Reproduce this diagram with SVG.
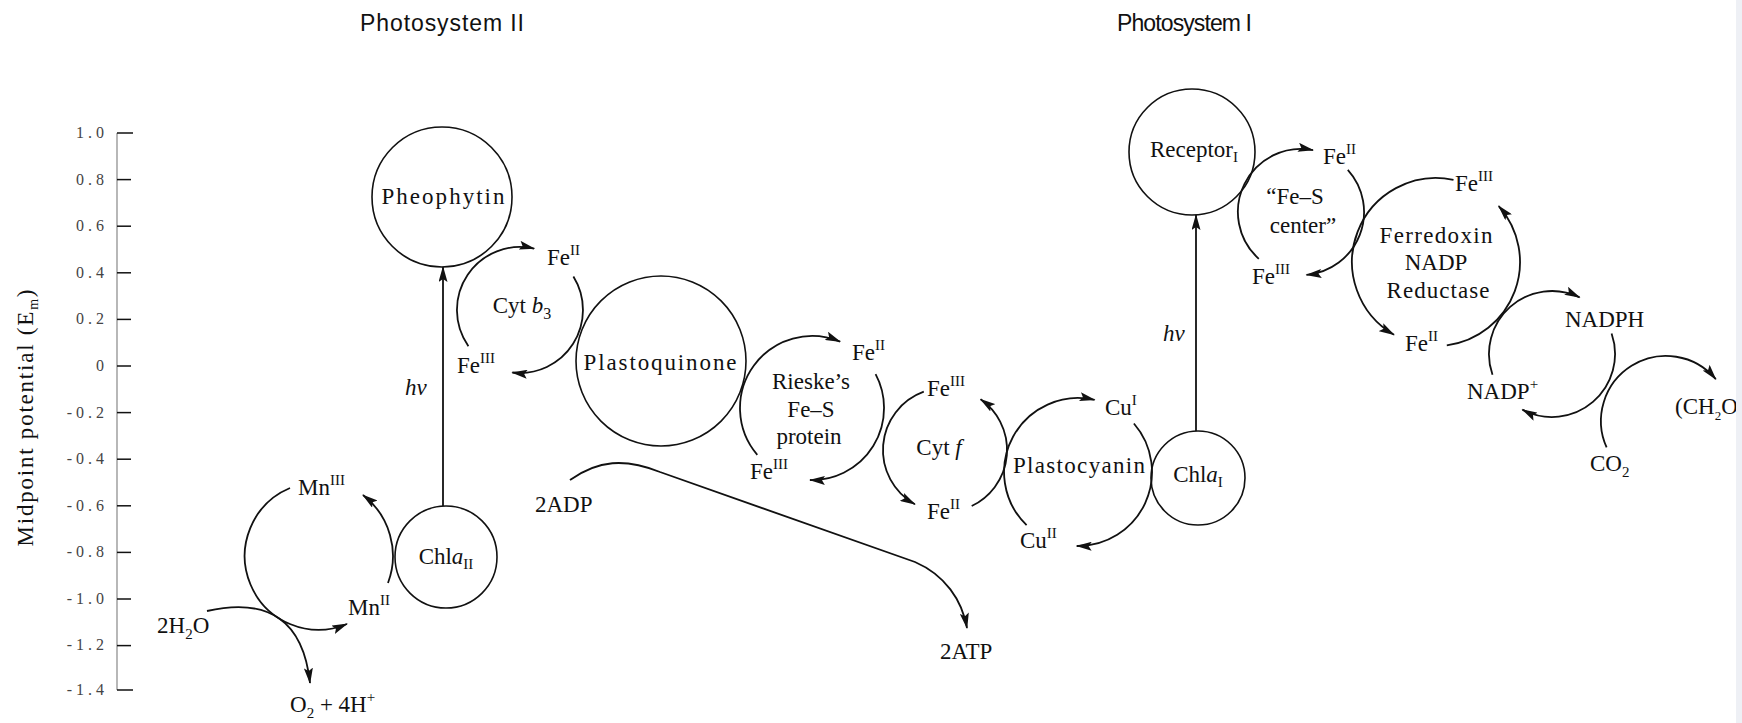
<svg xmlns="http://www.w3.org/2000/svg" width="1742" height="723" viewBox="0 0 1742 723">
<defs>
<style>
.c{fill:none;stroke:#111;stroke-width:1.6}
.a{fill:none;stroke:#111;stroke-width:1.8;marker-end:url(#ah)}
.t{font-family:'Liberation Serif',serif;font-size:23px;fill:#111}
.m{text-anchor:middle}
.h{font-family:'Liberation Sans',sans-serif;font-size:23px;fill:#111}
.k{font-family:'Liberation Serif',serif;font-size:16px;fill:#444;text-anchor:end;letter-spacing:4px}
.ax{stroke:#111;stroke-width:1.5}
</style>
<marker id="ah" viewBox="0 0 16 9" refX="15" refY="4.5" markerWidth="16" markerHeight="9" markerUnits="userSpaceOnUse" orient="auto">
<path d="M0,0 L16,4.5 L0,9 L3,4.5 z" fill="#111"/>
</marker>
</defs>
<rect width="1742" height="723" fill="#fff"/>

<g id="headers">
<text class="h" x="360" y="31" textLength="164">Photosystem II</text>
<text class="h" x="1117" y="31" textLength="135">Photosystem I</text>
</g>

<g id="axis">
<line x1="117" y1="133" x2="117" y2="690" stroke="#888" stroke-width="1.2"/>
<g class="ax">
<line x1="117" y1="133" x2="133" y2="133"/>
<line x1="117" y1="179.6" x2="131" y2="179.6"/>
<line x1="117" y1="226.2" x2="131" y2="226.2"/>
<line x1="117" y1="272.8" x2="131" y2="272.8"/>
<line x1="117" y1="319.4" x2="131" y2="319.4"/>
<line x1="117" y1="366" x2="131" y2="366"/>
<line x1="117" y1="412.6" x2="131" y2="412.6"/>
<line x1="117" y1="459.2" x2="131" y2="459.2"/>
<line x1="117" y1="505.8" x2="131" y2="505.8"/>
<line x1="117" y1="552.4" x2="131" y2="552.4"/>
<line x1="117" y1="599" x2="131" y2="599"/>
<line x1="117" y1="645.6" x2="131" y2="645.6"/>
<line x1="117" y1="690" x2="133" y2="690"/>
</g>
<text class="k" x="108" y="138">1.0</text>
<text class="k" x="108" y="185">0.8</text>
<text class="k" x="108" y="231">0.6</text>
<text class="k" x="108" y="278">0.4</text>
<text class="k" x="108" y="324">0.2</text>
<text class="k" x="108" y="371">0</text>
<text class="k" x="108" y="418">-0.2</text>
<text class="k" x="108" y="464">-0.4</text>
<text class="k" x="108" y="511">-0.6</text>
<text class="k" x="108" y="557">-0.8</text>
<text class="k" x="108" y="604">-1.0</text>
<text class="k" x="108" y="650">-1.2</text>
<text class="k" x="108" y="695">-1.4</text>
<text class="t m" transform="translate(33,418) rotate(-90)" textLength="257">Midpoint potential (E<tspan dy="5" font-size="14">m</tspan><tspan dy="-5">)</tspan></text>
</g>

<g id="pheophytin">
<circle class="c" cx="442" cy="197" r="70"/>
<text class="t m" x="443" y="204" textLength="123">Pheophytin</text>
</g>

<g id="chla2">
<circle class="c" cx="446" cy="557" r="51"/>
<text class="t m" x="446" y="564">Chl<tspan font-style="italic">a</tspan><tspan dy="5" font-size="15">II</tspan></text>
</g>

<g id="cytb3">
<text class="t m" x="522" y="313">Cyt <tspan font-style="italic">b</tspan><tspan dy="6" font-size="16">3</tspan></text>
<text class="t" x="547" y="265">Fe<tspan dy="-10" font-size="15">II</tspan></text>
<text class="t" x="457" y="373">Fe<tspan dy="-10" font-size="15">III</tspan></text>
</g>

<g id="plastoquinone">
<circle class="c" cx="661" cy="361" r="85"/>
<text class="t m" x="660" y="370" textLength="153">Plastoquinone</text>
</g>

<g id="rieske">
<text class="t m" x="811" y="389">Rieske’s</text>
<text class="t m" x="811" y="417">Fe–S</text>
<text class="t m" x="809" y="444">protein</text>
<text class="t" x="852" y="360">Fe<tspan dy="-10" font-size="15">II</tspan></text>
<text class="t" x="750" y="479">Fe<tspan dy="-10" font-size="15">III</tspan></text>
</g>

<g id="cytf">
<text class="t m" x="939" y="455">Cyt <tspan font-style="italic">f</tspan></text>
<text class="t" x="927" y="396">Fe<tspan dy="-10" font-size="15">III</tspan></text>
<text class="t" x="927" y="519">Fe<tspan dy="-10" font-size="15">II</tspan></text>
</g>

<g id="plastocyanin">
<text class="t m" x="1079" y="473" textLength="132">Plastocyanin</text>
<text class="t" x="1105" y="415">Cu<tspan dy="-10" font-size="15">I</tspan></text>
<text class="t" x="1020" y="548">Cu<tspan dy="-10" font-size="15">II</tspan></text>
</g>

<g id="chla1">
<circle class="c" cx="1198" cy="478" r="47"/>
<text class="t m" x="1198" y="482">Chl<tspan font-style="italic">a</tspan><tspan dy="5" font-size="15">I</tspan></text>
</g>

<g id="receptor">
<circle class="c" cx="1192" cy="152" r="63"/>
<text class="t m" x="1194" y="157">Receptor<tspan dy="5" font-size="15">I</tspan></text>
</g>

<g id="fes-center">
<text class="t m" x="1295" y="204">“Fe–S</text>
<text class="t m" x="1303" y="233">center”</text>
<text class="t" x="1323" y="164">Fe<tspan dy="-10" font-size="15">II</tspan></text>
<text class="t" x="1252" y="284">Fe<tspan dy="-10" font-size="15">III</tspan></text>
</g>

<g id="fnr">
<text class="t m" x="1436" y="243" textLength="113">Ferredoxin</text>
<text class="t m" x="1436" y="270">NADP</text>
<text class="t m" x="1438" y="298" textLength="103">Reductase</text>
<text class="t" x="1455" y="191">Fe<tspan dy="-10" font-size="15">III</tspan></text>
<text class="t" x="1405" y="351">Fe<tspan dy="-10" font-size="15">II</tspan></text>
</g>

<g id="nadph">
<text class="t" x="1565" y="327">NADPH</text>
<text class="t" x="1467" y="399">NADP<tspan dy="-10" font-size="15">+</tspan></text>
</g>

<g id="calvin">
<text class="t" x="1590" y="471">CO<tspan dy="6" font-size="15">2</tspan></text>
<text class="t" x="1675" y="414" font-size="19">(CH<tspan dy="6" font-size="13">2</tspan><tspan dy="-6">O)</tspan></text>
</g>

<g id="mn-cluster">
<text class="t" x="298" y="495">Mn<tspan dy="-10" font-size="15">III</tspan></text>
<text class="t" x="348" y="615">Mn<tspan dy="-10" font-size="15">II</tspan></text>
</g>

<g id="water">
<text class="t" x="157" y="633">2H<tspan dy="6" font-size="15">2</tspan><tspan dy="-6">O</tspan></text>
<text class="t" x="290" y="712">O<tspan dy="6" font-size="15">2</tspan><tspan dy="-6"> + 4H</tspan><tspan dy="-10" font-size="15">+</tspan></text>
</g>

<g id="atp">
<text class="t" x="535" y="512">2ADP</text>
<text class="t" x="940" y="659">2ATP</text>
</g>

<g id="light">
<text class="t" x="405" y="395" font-style="italic">hν</text>
<text class="t" x="1163" y="341" font-style="italic">hν</text>
</g>

<g id="connectors">
<path class="a" d="M443 506 L443 267"/>
<path class="a" d="M1196 431 L1196 215"/>
<path class="a" d="M290 488 A73.5 73.5 0 1 0 347 624"/>
<path class="a" d="M388 583 A77 77 0 0 0 363 495"/>
<path class="a" d="M207 611 Q300 590 310 683"/>
<path class="a" d="M468.4 346.2 A63 63 0 0 1 534.2 248.6"/>
<path class="a" d="M573.4 276.6 A63 63 0 0 1 512.3 372.5"/>
<path class="a" d="M757.3 454.8 A72 72 0 0 1 840.1 341.7"/>
<path class="a" d="M875.6 374.2 A72 72 0 0 1 810 480"/>
<path class="a" d="M923.8 391.7 A62 62 0 0 0 914.9 504.2"/>
<path class="a" d="M971.7 506 A62 62 0 0 0 980.6 399.2"/>
<path class="a" d="M1026.6 525.2 A74 74 0 0 1 1094.6 399.9"/>
<path class="a" d="M1133.9 423.5 A74 74 0 0 1 1076.7 546"/>
<path class="a" d="M1258.8 258.8 A63 63 0 0 1 1313 150.1"/>
<path class="a" d="M1347.8 169.8 A63 63 0 0 1 1306.5 274.8"/>
<path class="a" d="M1453.5 179.8 A84 84 0 0 0 1394 334.7"/>
<path class="a" d="M1446.8 345.3 A84 84 0 0 0 1498.7 206.1"/>
<path class="a" d="M1492.5 374.8 A63 63 0 0 1 1579.6 297.4"/>
<path class="a" d="M1611.6 333.5 A63 63 0 0 1 1522.4 409.6"/>
<path class="a" d="M1606.6 447.4 A65 65 0 0 1 1715.8 379.2"/>
<path class="a" d="M570 480 C598 460 625 458 660 472 L915 562 C945 575 962 600 967 628" stroke-width="3"/>
</g>

<rect x="1736" y="0" width="6" height="723" fill="#eef0f5"/>
</svg>
